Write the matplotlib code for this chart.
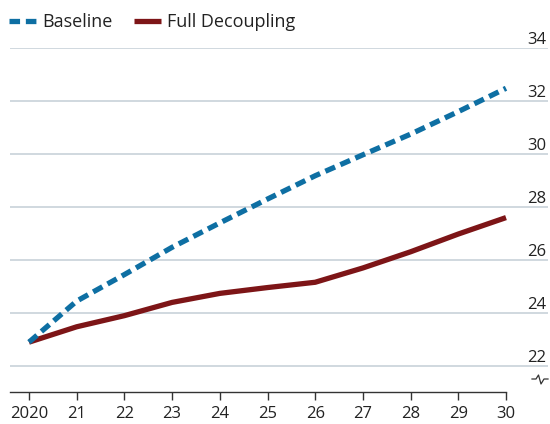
import matplotlib
matplotlib.use("Agg")
import matplotlib.pyplot as plt
from matplotlib.lines import Line2D

years = [2020, 2021, 2022, 2023, 2024, 2025, 2026, 2027, 2028, 2029, 2030]
xtick_labels = ["2020", "21", "22", "23", "24", "25", "26", "27", "28", "29", "30"]
baseline = [22.9, 24.45, 25.45, 26.48, 27.4, 28.3, 29.18, 29.97, 30.75, 31.6, 32.48]
full_decoupling = [22.9, 23.48, 23.9, 24.4, 24.74, 24.96, 25.16, 25.7, 26.31, 26.98, 27.6]
ytick_values = [22, 24, 26, 28, 30, 32, 34]

BLUE = "#0e6fa3"
RED = "#7d1517"
GRID = "#cdd6dc"
TEXT = "#222222"

plt.rcParams["font.family"] = ["Open Sans", "DejaVu Sans"]

W, H = 550, 424
fig = plt.figure(figsize=(W / 100, H / 100), dpi=100)
left, right, bottom, top = 10, 548, 392, 48
ax = fig.add_axes([left / W, 1 - bottom / H, (right - left) / W, (bottom - top) / H])

ppy = (506 - 29) / 10.0
x0 = 2020 - (29 - left) / ppy
x1 = 2030 + (right - 506) / ppy
ax.set_xlim(x0, x1)
ppv = (366 - 48) / 12.0
y0 = 22 - (bottom - 366) / ppv
ax.set_ylim(y0, 34)

for v in ytick_values:
    ax.axhline(v, color=GRID, lw=1.3, zorder=1)
    ax.text(0.997, v, str(v), transform=ax.get_yaxis_transform(), ha="right", va="bottom",
            fontsize=12, color=TEXT)
ax.set_yticks([])

ax.plot(years, full_decoupling, color=RED, lw=3.8, solid_capstyle="butt", zorder=3)
ax.plot(years, baseline, color=BLUE, lw=3.8, dashes=(2.0, 1.1), dash_capstyle="butt", zorder=4)

for s in ["top", "left", "right"]:
    ax.spines[s].set_visible(False)
ax.spines["bottom"].set_bounds(x0, 2030)
ax.spines["bottom"].set_color("#333333")
ax.spines["bottom"].set_linewidth(1.0)
ax.set_xticks(years)
ax.set_xticklabels(xtick_labels)
ax.tick_params(axis="x", direction="out", length=6, width=1.0, color="#333333",
               labelsize=12, labelcolor=TEXT, pad=4)

# axis break symbol
trans = ax.transAxes
bx_px = [532, 536, 538.5, 541, 544, 548]
by_px = [379, 379, 375, 384, 379, 379]
bx = [(p - left) / (right - left) for p in bx_px]
by = [(bottom - p) / (bottom - top) for p in by_px]
ax.add_line(Line2D(bx, by, transform=trans, color="#333333", lw=0.9, clip_on=False))

handles = [Line2D([], [], color=BLUE, lw=3.8, dashes=(2.0, 1.1), dash_capstyle="butt"),
           Line2D([], [], color=RED, lw=3.8, solid_capstyle="butt")]
fig.legend(handles, ["Baseline", "Full Decoupling"], loc="center left",
           bbox_to_anchor=(9 / W, 1 - 22 / H), ncol=2, frameon=False, fontsize=13,
           handlelength=1.5, handletextpad=0.35, columnspacing=1.15, borderpad=0,
           borderaxespad=0, labelcolor=TEXT)

fig.savefig("out.png", dpi=100)
